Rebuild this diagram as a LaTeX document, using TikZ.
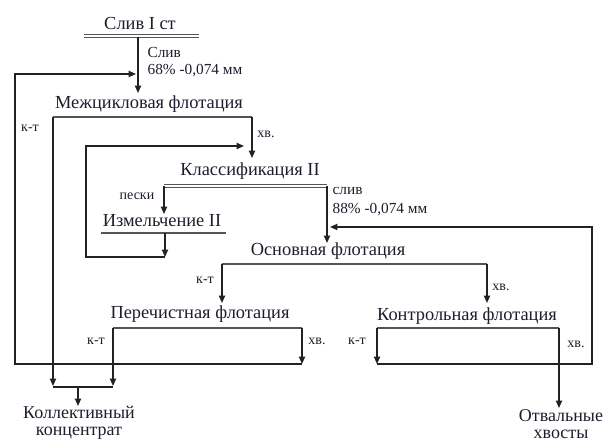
\documentclass[tikz,border=0pt]{standalone}
\usepackage{fontspec}
\setmainfont{Liberation Serif}
\usepackage{tikz}
\usetikzlibrary{calc,arrows.meta,positioning}
\definecolor{flowInk}{RGB}{28,30,44}
\definecolor{flowLine}{RGB}{34,34,34}
\definecolor{flowBar}{RGB}{85,85,85}

\tikzset{
    flow/.style={flowLine, line width=1.1pt, -{Triangle[length=5.5pt,width=4.6pt]}},
    pipe/.style={flowLine, line width=1.1pt},
    bar/.style={flowBar, line width=2pt},
    dbar/.style={flowBar, line width=0.7pt, double=white, double distance=0.9pt},
    oper/.style={text=flowInk, inner sep=1pt, font=\fontsize{13.8}{15}\selectfont},
    prod/.style={text=flowInk, inner sep=0pt, align=center, font=\fontsize{13.5}{12.6}\selectfont},
    note/.style={text=flowInk, inner sep=1pt, anchor=west, font=\fontsize{11.5}{13}\selectfont},
    tag/.style={text=flowInk, inner sep=1pt, font=\fontsize{10.5}{12}\selectfont},
}

\begin{document}
\begin{tikzpicture}[x=0.75pt,y=-0.75pt]
    \useasboundingbox (0,0) rectangle (603,441);

    % Feed
    \node[oper] (feed) at (140,24) {Слив I ст};
    \coordinate (feed-l) at (84,36);
    \coordinate (feed-r) at (199,36);
    \coordinate (feed-o) at (138,37);
    \coordinate (mcf-in) at (138,93);
    \coordinate (ret-in) at (136,74);
    \draw[dbar] (feed-l) -- (feed-r);
    \draw[flow] (feed-o) -- (mcf-in);
    \node[note] (feed-n1) at (146,53) {Слив};
    \node[note] (feed-n2) at (146,71) {68\% -0,074 мм};

    % Inter-cycle flotation
    \node[oper] (mcf) at (149,104) {Межцикловая флотация};
    \coordinate (mcf-l) at (53,117);
    \coordinate (mcf-r) at (252,117);
    \coordinate (cls-in) at (252,158);
    \coordinate (mcf-kt) at (53,386);
    \draw[bar] (mcf-l) -- (mcf-r);
    \draw[flow] (mcf-r) -- (cls-in);
    \draw[flow] (mcf-l) -- (mcf-kt);
    \node[tag] (mcf-hv) at (266,134) {хв.};
    \node[tag] (mcf-k) at (30,128) {к-т};

    % Classification II
    \node[oper] (cls) at (250,171) {Классификация II};
    \coordinate (cls-l) at (164,186);
    \coordinate (cls-r) at (327,186);
    \coordinate (grd-in) at (164,214);
    \coordinate (bas-in) at (327,243);
    \draw[dbar] (cls-l) -- (cls-r);
    \draw[flow] (cls-l) -- (grd-in);
    \draw[flow] (cls-r) -- (bas-in);
    \node[tag] (cls-p) at (137,196) {пески};
    \node[note] (cls-n1) at (331,191) {слив};
    \node[note] (cls-n2) at (331,210) {88\% -0,074 мм};

    % Grinding II
    \node[oper] (grd) at (162,221) {Измельчение II};
    \coordinate (grd-l) at (101,233);
    \coordinate (grd-r) at (226,233);
    \coordinate (grd-o) at (165,233);
    \coordinate (grd-d) at (165,257);
    \coordinate (grd-in2) at (244,146);
    \draw[bar] (grd-l) -- (grd-r);
    \draw[flow] (grd-o) -- (grd-d);
    \draw[flow] (grd-d) -| (86,146) -- (grd-in2);

    % Rougher flotation
    \node[oper] (bas) at (328,251) {Основная флотация};
    \coordinate (bas-l) at (222,264);
    \coordinate (bas-r) at (487,264);
    \coordinate (cln-in) at (222,303);
    \coordinate (scv-in) at (487,303);
    \coordinate (bas-in2) at (330,227);
    \draw[bar] (bas-l) -- (bas-r);
    \draw[flow] (bas-l) -- (cln-in);
    \draw[flow] (bas-r) -- (scv-in);
    \node[tag] (bas-k) at (205,280) {к-т};
    \node[tag] (bas-hv) at (501,287) {хв.};

    % Cleaner flotation
    \node[oper] (cln) at (200,314) {Перечистная флотация};
    \coordinate (cln-l) at (113,328);
    \coordinate (cln-r) at (302,328);
    \coordinate (cln-hv) at (302,364);
    \coordinate (cln-kt) at (113,386);
    \draw[bar] (cln-l) -- (cln-r);
    \draw[flow] (cln-r) -- (cln-hv);
    \draw[flow] (cln-l) -- (cln-kt);
    \draw[flow] (cln-hv) -| (15,74) -- (ret-in);
    \node[tag] (cln-k) at (96,341) {к-т};
    \node[tag] (cln-h) at (317,341) {хв.};

    % Scavenger flotation
    \node[oper] (scv) at (467,316) {Контрольная флотация};
    \coordinate (scv-l) at (377,328);
    \coordinate (scv-r) at (559,328);
    \coordinate (scv-kt) at (377,364);
    \coordinate (tail-in) at (559,408);
    \draw[bar] (scv-l) -- (scv-r);
    \draw[flow] (scv-l) -- (scv-kt);
    \draw[flow] (scv-r) -- (tail-in);
    \draw[flow] (scv-kt) -| (592,227) -- (bas-in2);
    \node[tag] (scv-k) at (357,341) {к-т};
    \node[tag] (scv-h) at (576,344) {хв.};

    % Products
    \coordinate (coll-l) at (53,387);
    \coordinate (coll-r) at (113,387);
    \coordinate (coll-o) at (78,387);
    \coordinate (coll-in) at (78,406);
    \draw[pipe] (coll-l) -- (coll-r);
    \draw[flow] (coll-o) -- (coll-in);
    \node[prod] (coll) at (79,423) {Коллективный\\концентрат};
    \node[prod] (tail) at (561,424) {Отвальные\\хвосты};

\end{tikzpicture}
\end{document}
